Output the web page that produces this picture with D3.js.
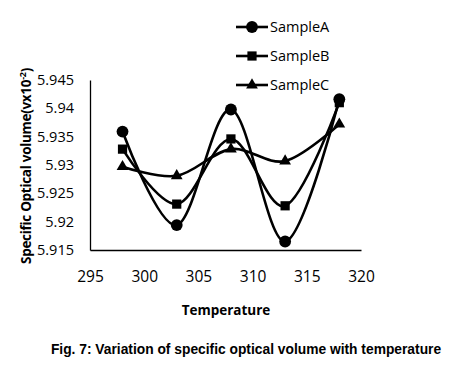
<!DOCTYPE html>
<html lang="en">
    <head>
        <meta charset="utf-8">
        <title>Specific optical volume</title>
        <script type="text/javascript" src="https://d3js.org/d3.v7.min.js"></script>
        <style type="text/css">
            body { margin: 0; background: #fff; }
            .tick text { font-family: "Open Sans", sans-serif; fill: #000; }
        </style>
    </head>
    <body>
        <script type="text/javascript">

        const width = 458;
        const height = 377;

        //Data
        const temperature = [298, 303, 308, 313, 318];
        const sampleA = [5.9359, 5.9194, 5.9398, 5.9165, 5.9416];
        const sampleB = [5.9328, 5.9231, 5.9346, 5.9228, 5.9410];
        const sampleC = [5.9297, 5.9281, 5.9328, 5.9307, 5.9372];
        const seriesNames = ["SampleA", "SampleB", "SampleC"];
        const xTicks = [295, 300, 305, 310, 315, 320];
        const yTicks = [5.915, 5.92, 5.925, 5.93, 5.935, 5.94, 5.945];

        const series = [
            {name: seriesNames[0], values: sampleA, symbol: d3.symbolCircle, size: 110},
            {name: seriesNames[1], values: sampleB, symbol: d3.symbolSquare, size: 85},
            {name: seriesNames[2], values: sampleC, symbol: d3.symbolTriangle, size: 60}
        ];

        //Scales
        const xScale = d3.scaleLinear()
                        .domain([295, 320])
                        .range([90, 361]);

        const yScale = d3.scaleLinear()
                        .domain([5.915, 5.945])
                        .range([250, 80]);

        //SVG
        const svg = d3.select("body")
                    .append("svg")
                    .attr("width", width)
                    .attr("height", height);

        //Axes
        const bottomAxis = d3.axisBottom(xScale)
                            .tickValues(xTicks)
                            .tickSize(0)
                            .tickPadding(21)
                            .tickFormat(d3.format("d"));

        const leftAxis = d3.axisLeft(yScale)
                            .tickValues(yTicks)
                            .tickSize(0)
                            .tickPadding(16)
                            .tickFormat(d => d3.format("")(+d.toFixed(3)));

        const gx = svg.append("g")
            .attr("transform", "translate(0,250)")
            .call(bottomAxis);
        gx.select(".domain").attr("stroke", "#000").attr("stroke-width", 1.3);
        gx.selectAll(".tick text").attr("font-size", 15.5);

        const gy = svg.append("g")
            .attr("transform", "translate(90,0)")
            .call(leftAxis);
        gy.select(".domain").attr("stroke", "#000").attr("stroke-width", 1.3);
        gy.selectAll(".tick text").attr("font-size", 14.5);

        //Lines
        const line = d3.line()
            .x((d, i) => xScale(temperature[i]))
            .y(d => yScale(d))
            .curve(d3.curveCardinal.tension(0));

        series.forEach(s => {
            svg.append("path")
                .attr("d", line(s.values))
                .attr("fill", "none")
                .attr("stroke", "#000")
                .attr("stroke-width", 2.6);

            svg.selectAll(null)
                .data(s.values)
                .enter()
                .append("path")
                .attr("d", d3.symbol().type(s.symbol).size(s.size))
                .attr("transform", (d, i) => "translate(" + xScale(temperature[i]) + "," + yScale(d) + ")")
                .attr("fill", "#000");
        });

        //Legend
        const legend = svg.append("g").attr("transform", "translate(236,27)");
        series.forEach((s, i) => {
            const row = legend.append("g").attr("transform", "translate(0," + (i * 29) + ")");
            row.append("line")
                .attr("x1", 0).attr("x2", 32)
                .attr("stroke", "#000").attr("stroke-width", 2.6);
            row.append("path")
                .attr("d", d3.symbol().type(s.symbol).size(s.size))
                .attr("transform", "translate(16,0)");
            row.append("text")
                .attr("x", 34)
                .attr("dy", "0.35em")
                .attr("font-family", "Open Sans, sans-serif")
                .attr("font-size", 14.5)
                .text(s.name);
        });

        //Titles
        svg.append("text")
            .attr("x", 226)
            .attr("y", 315)
            .attr("text-anchor", "middle")
            .attr("font-family", "Open Sans, sans-serif")
            .attr("font-weight", "bold")
            .attr("font-size", 13.5)
            .text("Temperature");

        const yTitle = svg.append("text")
            .attr("transform", "translate(31,166) rotate(-90)")
            .attr("text-anchor", "middle")
            .attr("font-family", "Open Sans, sans-serif")
            .attr("font-weight", "bold")
            .attr("font-size", 13.5)
            .attr("letter-spacing", -0.3);
        yTitle.append("tspan").text("Specific Optical volume(vx10");
        yTitle.append("tspan").attr("font-size", 9).attr("dy", -5).text("-2");
        yTitle.append("tspan").attr("dy", 5).text(")");

        svg.append("text")
            .attr("x", 246)
            .attr("y", 354)
            .attr("text-anchor", "middle")
            .attr("font-family", "Liberation Sans, Arial, sans-serif")
            .attr("font-weight", "bold")
            .attr("font-size", 13.8)
            .text("Fig. 7: Variation of specific optical volume with temperature");
        </script>
    </body>
</html>
